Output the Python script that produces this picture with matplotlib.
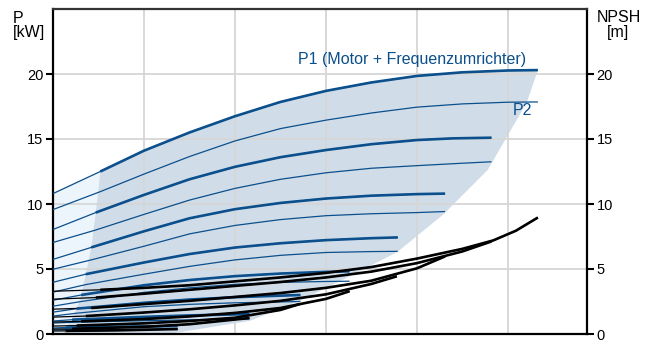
import numpy as np
import matplotlib
matplotlib.use("Agg")
from matplotlib import pyplot as plt

plt.rcParams["font.family"] = ["Liberation Sans", "DejaVu Sans"]

# flow axis has no labels; grid every 10 units
# speeds: 100, 90, 80, 70, 60, 50, 40, ~26 %
q_min = [5.2, 4.7, 4.2, 3.6, 3.1, 2.6, 2.1, 1.4]

# P1 (motor + frequency converter) per speed
p1_x = [
    [0, 5.2, 10, 15, 20, 25, 30, 35, 40, 45, 50, 53.3],
    [0, 4.7, 10, 15, 20, 25, 30, 35, 40, 44, 48.2],
    [0, 4.2, 10, 15, 20, 25, 30, 35, 40, 43.1],
    [0, 3.6, 10, 15, 20, 25, 30, 35, 37.9],
    [0, 3.1, 10, 15, 20, 25, 30, 32.6],
    [0, 2.6, 10, 15, 20, 27.2],
    [0, 2.1, 10, 15, 21.6],
    [0, 1.4, 7, 13.7],
]
p1_y = [
    [10.8, 12.5, 14.1, 15.5, 16.75, 17.85, 18.7, 19.35, 19.85, 20.13, 20.27, 20.3],
    [8.04, 9.34, 10.7, 11.9, 12.86, 13.6, 14.15, 14.6, 14.92, 15.05, 15.1],
    [5.74, 6.66, 7.9, 8.9, 9.6, 10.08, 10.42, 10.64, 10.76, 10.8],
    [3.98, 4.6, 5.5, 6.15, 6.65, 6.98, 7.22, 7.37, 7.43],
    [2.6, 3.0, 3.75, 4.15, 4.45, 4.65, 4.78, 4.82],
    [1.68, 1.95, 2.4, 2.65, 2.83, 3.0],
    [1.0, 1.1, 1.32, 1.43, 1.53],
    [0.46, 0.5, 0.56, 0.61],
]

# P2 (shaft power)
p2_x = [
    [0, 5.2, 10, 15, 20, 25, 30, 35, 40, 45, 50, 53.3],
    [0, 4.7, 10, 15, 20, 25, 30, 35, 40, 44, 48.2],
    [0, 4.2, 10, 15, 20, 25, 30, 35, 40, 43.1],
    [0, 3.6, 10, 15, 20, 25, 30, 35, 37.9],
    [0, 3.1, 10, 15, 20, 25, 30, 32.6],
    [0, 2.6, 10, 15, 20, 27.2],
    [0, 2.1, 10, 15, 21.6],
    [0, 1.4, 7, 13.7],
]
p2_y = [
    [9.57, 10.95, 12.3, 13.65, 14.85, 15.8, 16.45, 17.0, 17.45, 17.7, 17.83, 17.85],
    [7.04, 8.0, 9.2, 10.3, 11.2, 11.9, 12.4, 12.75, 12.95, 13.1, 13.25],
    [4.98, 5.7, 6.75, 7.7, 8.35, 8.8, 9.1, 9.25, 9.34, 9.42],
    [3.22, 3.8, 4.6, 5.2, 5.7, 6.05, 6.27, 6.34, 6.36],
    [2.14, 2.5, 3.2, 3.55, 3.82, 3.97, 4.04, 4.06],
    [1.38, 1.6, 2.1, 2.28, 2.4, 2.5],
    [0.84, 0.9, 1.02, 1.09, 1.15],
    [0.31, 0.33, 0.36, 0.38],
]

# NPSH per speed
npsh_x = [
    [0, 5.2, 10, 15, 20, 25, 30, 35, 40, 45, 48.4, 50.9, 53.3],
    [0, 4.7, 10, 15, 20, 25, 30, 35, 40, 45, 48.2],
    [0, 4.2, 10, 15, 20, 25, 30, 35, 40, 43.1],
    [0, 3.6, 10, 15, 20, 25, 30, 35, 37.8],
    [0, 3.1, 10, 15, 20, 25, 30, 32.6],
    [0, 2.6, 10, 15, 20, 25, 27.1],
    [0, 2.1, 10, 15, 21.6],
    [0, 1.4, 7, 13.7],
]
npsh_y = [
    [3.29, 3.4, 3.55, 3.75, 4.05, 4.35, 4.7, 5.15, 5.8, 6.55, 7.2, 7.95, 8.96],
    [2.68, 2.8, 3.1, 3.4, 3.7, 4.0, 4.35, 4.8, 5.45, 6.35, 7.12],
    [1.91, 2.0, 2.3, 2.55, 2.85, 3.15, 3.55, 4.1, 5.05, 5.97],
    [1.3, 1.38, 1.65, 1.9, 2.2, 2.55, 3.05, 3.85, 4.44],
    [0.92, 0.97, 1.15, 1.35, 1.62, 2.0, 2.7, 3.29],
    [0.61, 0.65, 0.82, 1.0, 1.25, 1.85, 2.3],
    [0.38, 0.4, 0.55, 0.75, 1.23],
    [0.23, 0.24, 0.28, 0.38],
]

# outline of the operating range (right/bottom edge, top to bottom)
edge_x = [53.3, 52.1, 47.8, 42.9, 37.8, 32.6, 27.1, 21.6, 14.0, 12.3]
edge_y = [20.3, 17.84, 12.63, 9.19, 6.28, 4.44, 2.53, 1.0, 0.15, 0]
# minimum flow line, bottom to top
minq_x = [1.1, 1.4, 2.1, 2.6, 3.1, 3.6, 4.2, 4.7, 5.2]
minq_y = [0, 0.5, 1.1, 1.95, 3.0, 4.6, 6.66, 9.34, 12.5]

y_ticks = [0, 5, 10, 15, 20]
x_grid = [10, 20, 30, 40, 50]

BLUE = "#0b4f8c"
SHADE = "#d0dde9"
LIGHT = "#edf5fc"
GRID = "#d6d6d6"

W, H = 652, 341
fig = plt.figure(figsize=(W / 100, H / 100), dpi=100)
ax = fig.add_axes([53 / W, 7 / H, 534 / W, 325 / H])
ax.set_xlim(0, 58.7)
ax.set_ylim(0, 25)

# light region left of minimum flow
top_x = np.array(p1_x[0])
top_y = np.array(p1_y[0])
m = top_x <= q_min[0]
light = [(0, 0)] + list(zip(top_x[m], top_y[m])) + list(zip(minq_x[::-1], minq_y[::-1]))
ax.fill([p[0] for p in light], [p[1] for p in light], color=LIGHT, lw=0, zorder=0.5)

# operating range
m = top_x >= q_min[0]
dark = list(zip(top_x[m], top_y[m])) + list(zip(edge_x[1:], edge_y[1:])) + list(zip(minq_x, minq_y))
ax.fill([p[0] for p in dark], [p[1] for p in dark], color=SHADE, lw=0, zorder=0.6)

# grid
for v in x_grid:
    ax.axvline(v, color=GRID, lw=1.3, zorder=1)
for v in y_ticks[1:]:
    ax.axhline(v, color=GRID, lw=1.3, zorder=1)

for i in range(len(q_min)):
    x = np.array(p1_x[i]); y = np.array(p1_y[i])
    ax.plot(x, y, color=BLUE, lw=0.9, zorder=3, solid_capstyle="butt")
    k = x >= q_min[i]
    ax.plot(x[k], y[k], color=BLUE, lw=1.9, zorder=3.2, solid_capstyle="butt",
            solid_joinstyle="round")

    ax.plot(p2_x[i], p2_y[i], color=BLUE, lw=0.9, zorder=3, solid_capstyle="butt")

    x = np.array(npsh_x[i]); y = np.array(npsh_y[i])
    ax.plot(x, y, color="black", lw=0.9, zorder=3.1, solid_capstyle="butt")
    k = x >= q_min[i]
    ax.plot(x[k], y[k], color="black", lw=1.9, zorder=3.3, solid_capstyle="butt",
            solid_joinstyle="round")

ax.text(26.9, 20.8, "P1 (Motor + Frequenzumrichter)", color=BLUE, fontsize=11.5,
        va="baseline", ha="left")
ax.text(50.5, 16.85, "P2", color=BLUE, fontsize=11.5, va="baseline", ha="left")

# axes look
for s in ax.spines.values():
    s.set_linewidth(1.6)
    s.set_color("black")
ax.spines["top"].set_color("#333333")
ax.set_xticks([])
ax.set_yticks(y_ticks)
ax.tick_params(axis="y", left=True, right=True, labelleft=True, labelright=True,
               direction="out", length=5, width=1.5, pad=2, labelsize=10.5)

# axis titles
fig.text(13 / W, 1 - 23 / H, "P", ha="left", va="baseline", fontsize=11.5)
fig.text(13 / W, 1 - 37 / H, "[kW]", ha="left", va="baseline", fontsize=11.5)
fig.text(619 / W, 1 - 22 / H, "NPSH", ha="center", va="baseline", fontsize=11.5)
fig.text(618 / W, 1 - 37 / H, "[m]", ha="center", va="baseline", fontsize=11.5)

fig.savefig("out.png", dpi=100)
